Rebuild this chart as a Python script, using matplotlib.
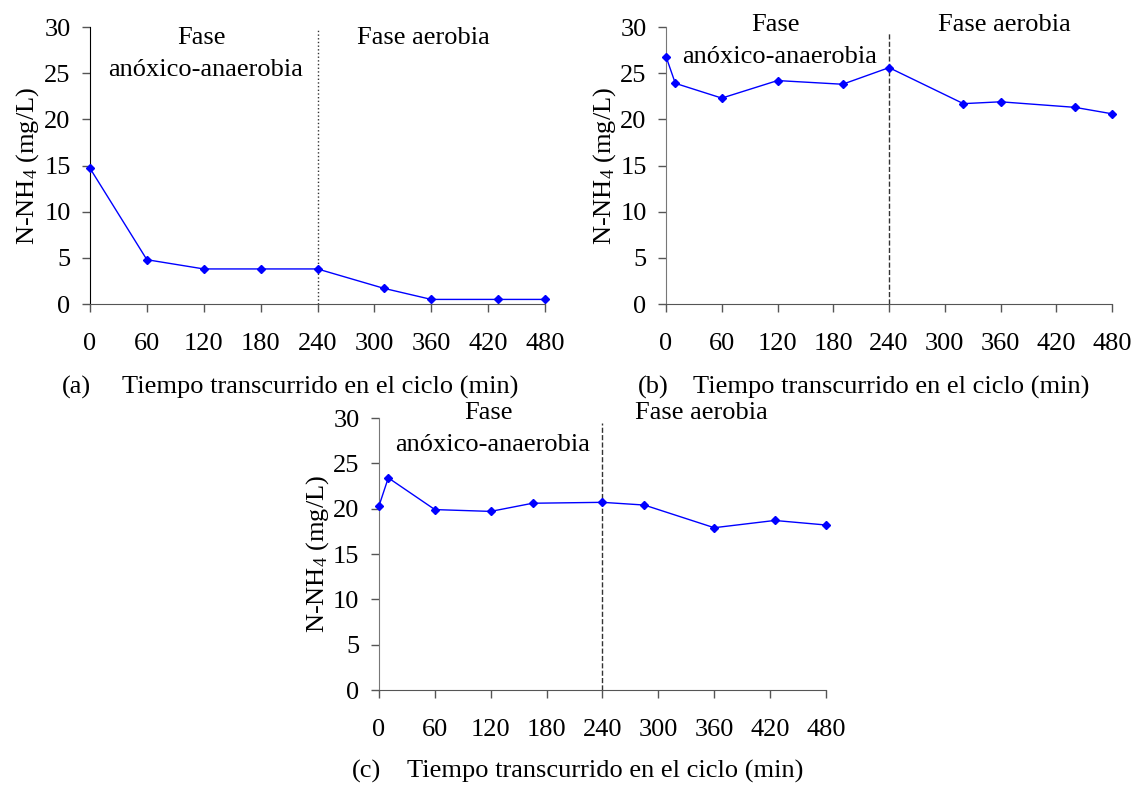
"""N-NH4 evolution during the SBR cycle, three panels (a), (b), (c)."""
import matplotlib
matplotlib.use("Agg")
import matplotlib.pyplot as plt

plt.rcParams["font.family"] = ["Liberation Serif", "DejaVu Serif"]
plt.rcParams["mathtext.fontset"] = "custom"
plt.rcParams["mathtext.rm"] = "Liberation Serif"
plt.rcParams["mathtext.default"] = "regular"

# data (time in min, N-NH4 in mg/L)
time_a = [0, 60, 120, 180, 240, 310, 360, 430, 480]
nh4_a = [14.7, 4.8, 3.8, 3.8, 3.8, 1.7, 0.5, 0.5, 0.5]

time_b = [0, 10, 60, 120, 190, 240, 320, 360, 440, 480]
nh4_b = [26.8, 23.9, 22.3, 24.2, 23.8, 25.6, 21.7, 21.9, 21.3, 20.6]

time_c = [0, 10, 60, 120, 165, 240, 285, 360, 425, 480]
nh4_c = [20.3, 23.4, 19.9, 19.7, 20.6, 20.7, 20.4, 17.9, 18.7, 18.2]

x_ticks = [0, 60, 120, 180, 240, 300, 360, 420, 480]
y_ticks = [0, 5, 10, 15, 20, 25, 30]
phase_change = 240

FS = 19
BLUE = "#0000ff"


def panel(ax, t, y, tag, line_style, spine_color, line_top, fase_y, anox_y, aer_x):
    ax.plot(t, y, color=BLUE, lw=1, marker="D", ms=4.5, mec=BLUE, mfc=BLUE,
            zorder=3, clip_on=False)
    ax.plot([phase_change, phase_change], [0, line_top], color="#333333", lw=1,
            ls=line_style, zorder=2)
    ax.set_xlim(0, 480); ax.set_ylim(0, 30)
    ax.set_xticks(x_ticks); ax.set_yticks(y_ticks)
    ax.tick_params(axis="both", labelsize=FS, direction="out", length=6,
                   width=1, color="#555555")
    ax.tick_params(axis="x", pad=15)
    ax.tick_params(axis="y", pad=8)
    for s in ("top", "right"):
        ax.spines[s].set_visible(False)
    ax.spines["left"].set_color(spine_color)
    ax.spines["bottom"].set_color("#555555")
    ax.set_ylabel("N-NH$_4$ (mg/L)", fontsize=FS)
    ax.yaxis.set_label_coords(-0.108, 0.5)
    ax.text(118, fase_y, "Fase", fontsize=FS, ha="center", va="center")
    ax.text(122, anox_y, "anóxico-anaerobia", fontsize=FS, ha="center", va="center")
    ax.text(aer_x, fase_y, "Fase aerobia", fontsize=FS, ha="left", va="center")
    ax.text(-0.029, -0.30, tag, transform=ax.transAxes, fontsize=FS,
            ha="center", va="center")
    ax.text(0.505, -0.30, "Tiempo transcurrido en el ciclo (min)",
            transform=ax.transAxes, fontsize=FS, ha="center", va="center")


fig = plt.figure(figsize=(11.35, 7.85), dpi=100)
ax_a = fig.add_axes([0.0793, 0.6127, 0.4009, 0.3529])
ax_b = fig.add_axes([0.5868, 0.6127, 0.3930, 0.3529])
ax_c = fig.add_axes([0.3339, 0.1210, 0.3938, 0.3465])

panel(ax_a, time_a, nh4_a, "(a)", ":", "black", 29.9, 28.8, 25.3, 282)
panel(ax_b, time_b, nh4_b, "(b)", "--", "#777777", 29.4, 30.2, 26.75, 293)
panel(ax_c, time_c, nh4_c, "(c)", "--", "#777777", 29.5, 30.5, 27.0, 275)

fig.savefig("out.png", dpi=100)
plt.close(fig)
